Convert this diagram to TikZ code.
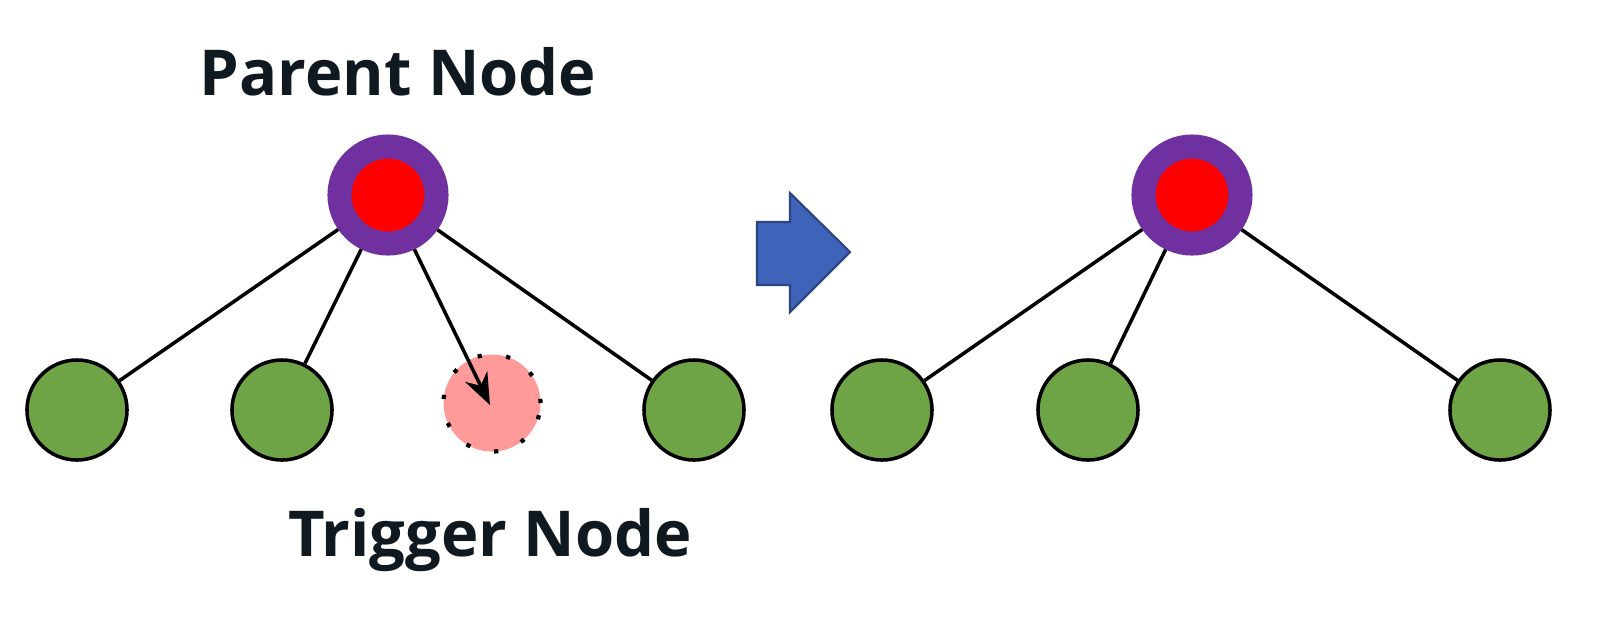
\documentclass[tikz,border=0pt]{standalone}
\usepackage{fontspec}
\setmainfont{Open Sans}
\usetikzlibrary{arrows.meta}
\definecolor{pur}{HTML}{7030A0}
\definecolor{grn}{HTML}{6FA446}
\definecolor{pnk}{HTML}{FF9A9A}
\definecolor{blu}{HTML}{3F63B8}
\definecolor{txt}{HTML}{101820}
\begin{document}
\begin{tikzpicture}[x=0.01cm,y=-0.01cm,
  child/.style={circle,draw=black,line width=1pt,fill=grn,minimum size=1cm,inner sep=0pt},
  parent/.style={circle,draw=pur,line width=0.24cm,fill=red,minimum size=0.97cm,inner sep=0pt},
  edge/.style={line width=1pt,black},
  lbl/.style={text=txt,font=\bfseries\fontsize{18}{22}\selectfont}]
\useasboundingbox (0,0) rectangle (1599,620);
\node[parent] (p1) at (388,195) {};
\node[child] (a1) at (77,410) {};
\node[child] (a2) at (282,410) {};
\node[circle,fill=pnk,draw=black,line width=1.2pt,dash pattern=on 1.2pt off 7pt,minimum size=0.97cm,inner sep=0pt] (t) at (492,403) {};
\node[child] (a4) at (694,410) {};
\draw[edge] (p1) -- (a1);
\draw[edge] (p1) -- (a2);
\draw[edge] (p1) -- (a4);
\coordinate (tc) at (490,405);
\draw[edge,-{Stealth[length=9pt,width=7pt]}] (p1) -- (tc);
\node[lbl] (pl) at (398,72) {Parent Node};
\node[lbl] (tl) at (490,540) {Trigger Node};
\fill[blu,draw=blu!70!black,line width=0.6pt] (757,222) -- (790,222) -- (790,193) -- (850,252) -- (790,312) -- (790,285) -- (757,285) -- cycle;
\node[parent] (p2) at (1192,195) {};
\node[child] (b1) at (882,410) {};
\node[child] (b2) at (1088,410) {};
\node[child] (b3) at (1500,410) {};
\draw[edge] (p2) -- (b1);
\draw[edge] (p2) -- (b2);
\draw[edge] (p2) -- (b3);
\end{tikzpicture}
\end{document}
